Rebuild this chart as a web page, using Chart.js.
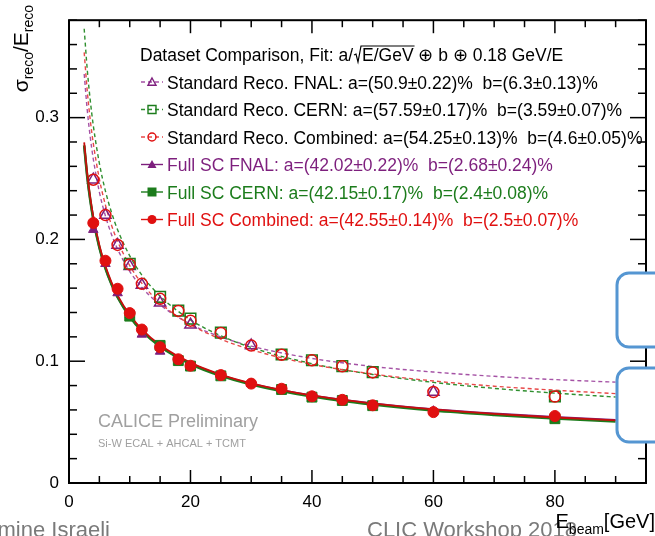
<!DOCTYPE html>
<html lang="en">
<head>
<meta charset="UTF-8">
<title>Dataset Comparison</title>
<style>
  body { margin: 0; background: #fff; }
  #grafica { display: block; }
</style>
</head>
<body>
<canvas id="grafica" width="655" height="536"></canvas>
<script src="https://cdn.jsdelivr.net/npm/chart.js"></script>
<script>
// beam energies [GeV] of each data set
const eFNAL = [4, 6, 8, 10, 12, 15, 20, 30, 60];
const eCERN = [10, 15, 18, 20, 25, 35, 40, 45, 50, 80];
const eComb = [4, 6, 8, 10, 12, 15, 18, 20, 25, 30, 35, 40, 45, 50, 60, 80];

// sigma_reco / E_reco
const stdFNAL = [0.249, 0.220, 0.1955, 0.178, 0.1625, 0.148, 0.130, 0.1128, 0.0747];
const stdCERN = [0.180, 0.1528, 0.1415, 0.135, 0.1235, 0.1055, 0.1008, 0.096, 0.091, 0.071];
const stdComb = [0.249, 0.220, 0.1955, 0.1795, 0.1635, 0.1512, 0.1413, 0.1333, 0.1232, 0.1128,
                 0.1053, 0.1007, 0.0958, 0.0908, 0.0747, 0.071];
const fullFNAL = [0.208, 0.180, 0.156, 0.138, 0.122, 0.108, 0.095, 0.0815, 0.059];
const fullCERN = [0.137, 0.113, 0.1005, 0.096, 0.088, 0.0768, 0.0705, 0.0678, 0.0635, 0.0528];
const fullComb = [0.2135, 0.1825, 0.1595, 0.1395, 0.126, 0.1115, 0.1016, 0.0963, 0.0886, 0.0816,
                  0.0774, 0.0712, 0.0683, 0.0638, 0.0582, 0.055];

// fit curves, sampled along E
const eFit = [2.5, 3, 3.5, 4, 5, 6, 7, 8, 10, 12, 15, 20, 25, 30, 40, 50, 60, 70, 80, 90];
const fitStdFNAL = [0.3358, 0.3065, 0.2840, 0.2660, 0.2389, 0.2192, 0.2041, 0.1920, 0.1738, 0.1606,
                    0.1463, 0.1304, 0.1199, 0.1124, 0.1023, 0.0957, 0.0911, 0.0876, 0.0849, 0.0828];
const fitStdCERN = [0.3730, 0.3398, 0.3142, 0.2936, 0.2625, 0.2397, 0.2221, 0.2080, 0.1865, 0.1707,
                    0.1534, 0.1340, 0.1209, 0.1113, 0.0980, 0.0891, 0.0826, 0.0777, 0.0738, 0.0706];
const fitStdComb = [0.3536, 0.3222, 0.2981, 0.2788, 0.2496, 0.2282, 0.2117, 0.1985, 0.1785, 0.1639,
                    0.1479, 0.1301, 0.1181, 0.1094, 0.0974, 0.0895, 0.0838, 0.0795, 0.0762, 0.0734];
const fitFullFNAL = [0.2766, 0.2514, 0.2320, 0.2165, 0.1932, 0.1762, 0.1631, 0.1526, 0.1368, 0.1251,
                     0.1124, 0.0981, 0.0885, 0.0815, 0.0718, 0.0653, 0.0606, 0.0570, 0.0541, 0.0518];
const fitFullCERN = [0.2772, 0.2518, 0.2323, 0.2168, 0.1934, 0.1763, 0.1632, 0.1526, 0.1366, 0.1249,
                     0.1121, 0.0977, 0.0880, 0.0809, 0.0710, 0.0644, 0.0595, 0.0559, 0.0529, 0.0505];
const fitFullComb = [0.2797, 0.2541, 0.2345, 0.2189, 0.1953, 0.1781, 0.1648, 0.1541, 0.1381, 0.1262,
                     0.1133, 0.0988, 0.0890, 0.0819, 0.0719, 0.0653, 0.0604, 0.0567, 0.0538, 0.0514];

const xTicks = [0, 20, 40, 60, 80];
const yTicks = [0, 0.1, 0.2, 0.3];

const legendHeader = 'Dataset Comparison, Fit: a/';
const legendLabels = [
  'Standard Reco. FNAL: a=(50.9\u00b10.22)%  b=(6.3\u00b10.13)%',
  'Standard Reco. CERN: a=(57.59\u00b10.17)%  b=(3.59\u00b10.07)%',
  'Standard Reco. Combined: a=(54.25\u00b10.13)%  b=(4.6\u00b10.05)%',
  'Full SC FNAL: a=(42.02\u00b10.22)%  b=(2.68\u00b10.24)%',
  'Full SC CERN: a=(42.15\u00b10.17)%  b=(2.4\u00b10.08)%',
  'Full SC Combined: a=(42.55\u00b10.14)%  b=(2.5\u00b10.07)%'
];

const PURPLE = '#7d1f7d', GREEN = '#1c7c1c', RED = '#e01010';
const PURPLE_L = '#a552a5', GREEN_L = '#2f8f2f', RED_L = '#e84848';
const FONT = "'Liberation Sans', Arial, sans-serif";

function pts(xs, ys) {
  return xs.map((x, i) => ({ x: x, y: ys[i] }));
}

function curve(ys, color, dash, width, order) {
  return {
    data: pts(eFit, ys), borderColor: color, borderWidth: width, borderDash: dash,
    pointRadius: 0, fill: false, cubicInterpolationMode: 'monotone', order: order
  };
}

function markers(xs, ys, color, style, r, filled, order) {
  return {
    data: pts(xs, ys), showLine: false, pointStyle: style, pointRadius: r,
    pointBorderColor: color, pointBackgroundColor: filled ? color : 'rgba(0,0,0,0)',
    pointBorderWidth: filled ? 1 : 1.5, order: order
  };
}

function seg(ctx, x1, y1, x2, y2) {
  ctx.beginPath(); ctx.moveTo(x1, y1); ctx.lineTo(x2, y2); ctx.stroke();
}

function drawMarker(ctx, style, x, y, r, color, filled) {
  ctx.save();
  ctx.strokeStyle = color; ctx.fillStyle = color; ctx.lineWidth = 1.4;
  ctx.beginPath();
  if (style === 'circle') {
    ctx.arc(x, y, r, 0, Math.PI * 2);
  } else if (style === 'rect') {
    ctx.rect(x - r, y - r, 2 * r, 2 * r);
  } else {
    ctx.moveTo(x, y - r); ctx.lineTo(x + r, y + r * 0.8); ctx.lineTo(x - r, y + r * 0.8); ctx.closePath();
  }
  if (filled) ctx.fill(); else ctx.stroke();
  ctx.restore();
}

const decor = {
  id: 'decor',
  afterDatasetsDraw(chart) {
    const { ctx, chartArea: a, scales: { x, y } } = chart;
    ctx.save();
    ctx.strokeStyle = '#000';
    ctx.lineWidth = 1.5;
    for (let v = 0; v <= 95; v += 5) {
      const px = x.getPixelForValue(v);
      const len = v % 20 === 0 ? 13 : 7;
      seg(ctx, px, a.bottom, px, a.bottom - len);
      seg(ctx, px, a.top, px, a.top + len);
    }
    for (let k = 0; k <= 19; k++) {
      const py = y.getPixelForValue(k * 0.02);
      const len = k % 5 === 0 ? 16 : 8;
      seg(ctx, a.left, py, a.left + len, py);
      seg(ctx, a.right, py, a.right - len, py);
    }
    ctx.lineWidth = 2;
    ctx.strokeRect(a.left, a.top, a.right - a.left, a.bottom - a.top);
    ctx.restore();
  },
  afterDraw(chart) {
    const { ctx } = chart;
    ctx.save();

    // legend header with square root
    ctx.fillStyle = '#000';
    ctx.textBaseline = 'alphabetic';
    ctx.font = '17.5px ' + FONT;
    let hx = 140, hy = 61;
    ctx.fillText(legendHeader, hx, hy);
    hx += ctx.measureText(legendHeader).width + 1;
    const under = 'E/GeV';
    const uw = ctx.measureText(under).width;
    ctx.strokeStyle = '#000'; ctx.lineWidth = 1.2;
    ctx.beginPath();
    ctx.moveTo(hx, hy - 6); ctx.lineTo(hx + 2, hy - 7); ctx.lineTo(hx + 4, hy + 1);
    ctx.lineTo(hx + 7, hy - 15); ctx.lineTo(hx + 9 + uw, hy - 15);
    ctx.stroke();
    ctx.fillText(under, hx + 8, hy);
    ctx.fillText(' \u2295 b \u2295 0.18 GeV/E', hx + 8 + uw, hy);

    // legend entries
    const rows = [
      [PURPLE_L, PURPLE, 'triangle', false, '#000'],
      [GREEN_L, GREEN, 'rect', false, '#000'],
      [RED_L, RED, 'circle', false, '#000'],
      [PURPLE, PURPLE, 'triangle', true, PURPLE],
      [GREEN, GREEN, 'rect', true, GREEN],
      [RED, RED, 'circle', true, RED]
    ];
    rows.forEach((r, i) => {
      const ly = 82 + i * 27.5;
      ctx.save();
      ctx.strokeStyle = r[0]; ctx.lineWidth = 1.4;
      if (!r[3]) ctx.setLineDash([4, 3]);
      seg(ctx, 141, ly, 163, ly);
      ctx.restore();
      drawMarker(ctx, r[2], 152, ly, r[3] ? 4.5 : 4, r[1], r[3]);
      ctx.fillStyle = r[4];
      ctx.fillText(legendLabels[i], 167, ly + 6.5);
    });

    // CALICE label
    ctx.fillStyle = '#a0a0a0';
    ctx.font = '18px ' + FONT;
    ctx.fillText('CALICE Preliminary', 98, 427);
    ctx.font = '11px ' + FONT;
    ctx.fillText('Si-W ECAL + AHCAL + TCMT', 98, 447);

    // slide footer
    ctx.fillStyle = '#7a7a7a';
    ctx.font = '22px ' + FONT;
    ctx.textAlign = 'right';
    ctx.fillText('Jasmine Israeli', 110, 537);
    ctx.textAlign = 'left';
    ctx.fillText('CLIC Workshop 2018', 367, 537);

    // x-axis title
    ctx.fillStyle = '#000';
    ctx.font = '20px ' + FONT;
    const gw = ctx.measureText('[GeV]').width;
    ctx.font = '14px ' + FONT;
    const bw = ctx.measureText('beam').width;
    ctx.font = '20px ' + FONT;
    const ew = ctx.measureText('E').width;
    let tx = 655 - gw - bw - ew;
    ctx.fillText('E', tx, 528);
    ctx.font = '14px ' + FONT;
    ctx.fillText('beam', tx + ew, 534);
    ctx.font = '20px ' + FONT;
    ctx.fillText('[GeV]', tx + ew + bw, 528);

    // y-axis title, rotated
    const parts = [['\u03c3', 21, 0], ['reco', 14, 5], ['/E', 21, 0], ['reco', 14, 5]];
    let total = 0;
    parts.forEach(p => { ctx.font = p[1] + 'px ' + FONT; total += ctx.measureText(p[0]).width; });
    ctx.save();
    ctx.translate(28, 5 + total);
    ctx.rotate(-Math.PI / 2);
    let px = 0;
    parts.forEach(p => {
      ctx.font = p[1] + 'px ' + FONT;
      ctx.fillText(p[0], px, p[2]);
      px += ctx.measureText(p[0]).width;
    });
    ctx.restore();

    // blue boxes from the slide
    ctx.strokeStyle = '#5596d2'; ctx.fillStyle = '#fff'; ctx.lineWidth = 3;
    [[617, 273], [617, 368]].forEach(b => {
      ctx.beginPath();
      ctx.roundRect(b[0], b[1], 60, 74, 12);
      ctx.fill(); ctx.stroke();
    });
    ctx.restore();
  }
};

const ctx = document.getElementById('grafica').getContext('2d');
const grafica = new Chart(ctx, {
  type: 'line',
  data: {
    datasets: [
      markers(eComb, fullComb, RED, 'circle', 5.5, true, 1),
      markers(eCERN, fullCERN, GREEN, 'rect', 7, true, 2),
      markers(eFNAL, fullFNAL, PURPLE, 'triangle', 5.5, true, 3),
      curve(fitFullComb, '#c80d0d', [], 1.8, 4),
      curve(fitFullCERN, GREEN, [], 2.6, 5),
      curve(fitFullFNAL, PURPLE, [], 2, 6),
      markers(eComb, stdComb, RED, 'circle', 5.5, false, 7),
      markers(eCERN, stdCERN, GREEN, 'rect', 7.5, false, 8),
      markers(eFNAL, stdFNAL, PURPLE, 'triangle', 6.5, false, 9),
      curve(fitStdComb, RED_L, [4, 3], 1.4, 10),
      curve(fitStdCERN, GREEN_L, [4, 3], 1.4, 11),
      curve(fitStdFNAL, PURPLE_L, [4, 3], 1.4, 12)
    ]
  },
  options: {
    responsive: false,
    animation: false,
    devicePixelRatio: 1,
    layout: { padding: { top: 7, right: 0, left: 0, bottom: 0 } },
    plugins: { legend: { display: false }, tooltip: { enabled: false } },
    scales: {
      x: {
        type: 'linear', min: 0, max: 95,
        grid: { display: false, drawTicks: false }, border: { display: false },
        afterBuildTicks: s => { s.ticks = xTicks.map(v => ({ value: v })); },
        afterFit: s => { s.height = 53; },
        ticks: { font: { family: FONT, size: 17 }, color: '#000', padding: 9,
                 maxRotation: 0, autoSkip: false, callback: v => String(v) }
      },
      y: {
        type: 'linear', min: 0, max: 0.38,
        grid: { display: false, drawTicks: false }, border: { display: false },
        afterBuildTicks: s => { s.ticks = yTicks.map(v => ({ value: v })); },
        afterFit: s => { s.width = 69; },
        ticks: { font: { family: FONT, size: 17 }, color: '#000', padding: 10,
                 autoSkip: false, callback: v => v === 0 ? '0' : v.toFixed(1) }
      }
    }
  },
  plugins: [decor]
});
</script>
</body>
</html>
